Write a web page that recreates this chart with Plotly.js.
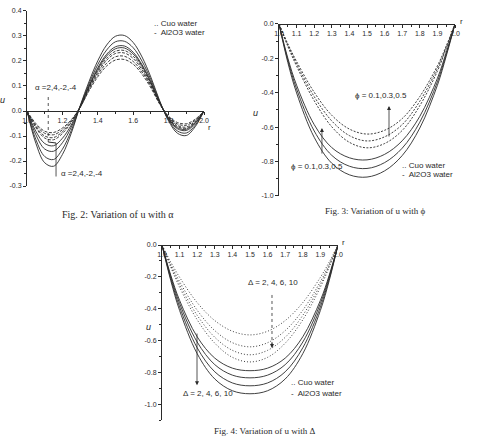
<!DOCTYPE html>
<html>
<head>
<meta charset="utf-8">
<script src="https://cdn.plot.ly/plotly-3.0.1.min.js"></script>
<style>
  html, body { margin: 0; padding: 0; background: #fff; }
  #chart { width: 478px; height: 441px; }
</style>
</head>
<body>
<div id="chart"></div>
<script>
// ---------- Fig. 2 : u(r) for alpha = 2, 4, -2, -4 ----------
const r2 = [1.0, 1.05, 1.1, 1.15, 1.2, 1.25, 1.3, 1.35, 1.4, 1.45, 1.5, 1.55, 1.6, 1.65, 1.7, 1.75, 1.8, 1.85, 1.9, 1.95, 2.0];
const alAlpha1 = [0, -0.129, -0.207, -0.221, -0.174, -0.089, 0.020, 0.117, 0.201, 0.264, 0.299, 0.302, 0.274, 0.216, 0.135, 0.040, -0.040, -0.089, -0.098, -0.063, 0];
const alAlpha2 = [0, -0.114, -0.182, -0.194, -0.153, -0.078, 0.018, 0.108, 0.186, 0.244, 0.277, 0.279, 0.253, 0.199, 0.125, 0.037, -0.036, -0.080, -0.088, -0.057, 0];
const alAlpha3 = [0, -0.095, -0.152, -0.161, -0.127, -0.065, 0.017, 0.100, 0.173, 0.227, 0.257, 0.260, 0.235, 0.185, 0.116, 0.034, -0.032, -0.071, -0.078, -0.050, 0];
const alAlpha4 = [0, -0.081, -0.130, -0.139, -0.109, -0.056, 0.017, 0.097, 0.167, 0.220, 0.249, 0.252, 0.228, 0.180, 0.112, 0.033, -0.030, -0.067, -0.073, -0.047, 0];
const cuAlpha1 = [0, -0.067, -0.108, -0.115, -0.090, -0.046, 0.016, 0.093, 0.161, 0.211, 0.239, 0.242, 0.219, 0.173, 0.108, 0.032, -0.028, -0.062, -0.069, -0.044, 0];
const cuAlpha2 = [0, -0.062, -0.100, -0.106, -0.083, -0.043, 0.015, 0.090, 0.154, 0.203, 0.230, 0.232, 0.210, 0.165, 0.103, 0.031, -0.026, -0.058, -0.064, -0.041, 0];
const cuAlpha3 = [0, -0.056, -0.089, -0.095, -0.075, -0.038, 0.014, 0.085, 0.146, 0.191, 0.217, 0.219, 0.198, 0.156, 0.098, 0.029, -0.023, -0.052, -0.057, -0.037, 0];
const cuAlpha4 = [0, -0.050, -0.081, -0.086, -0.068, -0.035, 0.014, 0.080, 0.137, 0.180, 0.204, 0.206, 0.187, 0.147, 0.092, 0.027, -0.021, -0.046, -0.051, -0.033, 0];

// ---------- Fig. 3 : u(r) for phi = 0.1, 0.3, 0.5 ----------
const r3 = [1.0, 1.05, 1.1, 1.2, 1.3, 1.4, 1.5, 1.6, 1.7, 1.8, 1.9, 1.95, 2.0];
const cuPhi1 = [0, -0.115, -0.218, -0.397, -0.531, -0.611, -0.640, -0.618, -0.550, -0.422, -0.243, -0.128, 0];
const cuPhi2 = [0, -0.122, -0.231, -0.422, -0.564, -0.649, -0.680, -0.656, -0.585, -0.449, -0.258, -0.136, 0];
const cuPhi3 = [0, -0.130, -0.245, -0.446, -0.598, -0.688, -0.720, -0.695, -0.619, -0.475, -0.274, -0.144, 0];
const alPhi1 = [0, -0.198, -0.356, -0.585, -0.719, -0.778, -0.790, -0.758, -0.679, -0.537, -0.316, -0.166, 0];
const alPhi2 = [0, -0.210, -0.378, -0.622, -0.764, -0.827, -0.840, -0.806, -0.722, -0.571, -0.336, -0.176, 0];
const alPhi3 = [0, -0.223, -0.401, -0.659, -0.810, -0.877, -0.890, -0.854, -0.765, -0.605, -0.356, -0.187, 0];

// ---------- Fig. 4 : u(r) for Delta = 2, 4, 6, 10 ----------
const r4 = [1.0, 1.05, 1.1, 1.2, 1.3, 1.4, 1.5, 1.6, 1.7, 1.8, 1.9, 1.95, 2.0];
const cuDelta1 = [0, -0.107, -0.203, -0.362, -0.475, -0.542, -0.565, -0.542, -0.475, -0.362, -0.203, -0.107, 0];
const cuDelta2 = [0, -0.122, -0.230, -0.410, -0.538, -0.614, -0.640, -0.614, -0.538, -0.410, -0.230, -0.122, 0];
const cuDelta3 = [0, -0.131, -0.248, -0.442, -0.580, -0.662, -0.690, -0.662, -0.580, -0.442, -0.248, -0.131, 0];
const cuDelta4 = [0, -0.140, -0.265, -0.470, -0.617, -0.706, -0.735, -0.706, -0.617, -0.470, -0.265, -0.140, 0];
const alDelta1 = [0, -0.190, -0.348, -0.577, -0.711, -0.774, -0.790, -0.774, -0.711, -0.577, -0.348, -0.190, 0];
const alDelta2 = [0, -0.200, -0.367, -0.610, -0.752, -0.818, -0.835, -0.818, -0.752, -0.610, -0.367, -0.200, 0];
const alDelta3 = [0, -0.212, -0.389, -0.646, -0.797, -0.867, -0.885, -0.867, -0.797, -0.646, -0.389, -0.212, 0];
const alDelta4 = [0, -0.224, -0.411, -0.683, -0.842, -0.916, -0.935, -0.916, -0.842, -0.683, -0.411, -0.224, 0];

// ---------- tick labels ----------
const xTicks2 = [1.0, 1.2, 1.4, 1.6, 1.8, 2.0];
const xLabels2 = ['1.0', '1.2', '1.4', '1.6', '1.8', '2.0'];
const yTicks2 = [-0.3, -0.2, -0.1, 0.0, 0.1, 0.2, 0.3, 0.4];
const yLabels2 = ['-0.3', '-0.2', '-0.1', '0.0', '0.1', '0.2', '0.3', '0.4'];
const xTicks34 = [1.0, 1.1, 1.2, 1.3, 1.4, 1.5, 1.6, 1.7, 1.8, 1.9, 2.0];
const xLabels34 = ['1.0', '1.1', '1.2', '1.3', '1.4', '1.5', '1.6', '1.7', '1.8', '1.9', '2.0'];
const yTicks34 = [0.0, -0.2, -0.4, -0.6, -0.8, -1.0];
const yLabels34 = ['0.0', '-0.2', '-0.4', '-0.6', '-0.8', '-1.0'];

const SANS = "'Liberation Sans Narrow', 'Arial Narrow', 'Liberation Sans', Arial, sans-serif";
const SERIF = "'Liberation Serif', 'Times New Roman', serif";
const INK = '#2a2a2a';

function curve(x, y, xa, ya, dash) {
  return {
    type: 'scatter', mode: 'lines', x: x, y: y, xaxis: xa, yaxis: ya,
    line: { color: INK, width: 0.9, shape: 'spline', smoothing: 1, dash: dash },
    hoverinfo: 'skip', showlegend: false
  };
}

const traces = [
  curve(r2, alAlpha1, 'x', 'y', 'solid'),
  curve(r2, alAlpha2, 'x', 'y', 'solid'),
  curve(r2, alAlpha3, 'x', 'y', 'solid'),
  curve(r2, alAlpha4, 'x', 'y', 'solid'),
  curve(r2, cuAlpha1, 'x', 'y', '3px,1.5px'),
  curve(r2, cuAlpha2, 'x', 'y', '3px,1.5px'),
  curve(r2, cuAlpha3, 'x', 'y', '3px,1.5px'),
  curve(r2, cuAlpha4, 'x', 'y', '3px,1.5px'),
  curve(r3, cuPhi1, 'x2', 'y2', '2px,1.5px'),
  curve(r3, cuPhi2, 'x2', 'y2', '2px,1.5px'),
  curve(r3, cuPhi3, 'x2', 'y2', '2px,1.5px'),
  curve(r3, alPhi1, 'x2', 'y2', 'solid'),
  curve(r3, alPhi2, 'x2', 'y2', 'solid'),
  curve(r3, alPhi3, 'x2', 'y2', 'solid'),
  curve(r4, cuDelta1, 'x3', 'y3', '1px,2px'),
  curve(r4, cuDelta2, 'x3', 'y3', '1px,2px'),
  curve(r4, cuDelta3, 'x3', 'y3', '1px,2px'),
  curve(r4, cuDelta4, 'x3', 'y3', '1px,2px'),
  curve(r4, alDelta1, 'x3', 'y3', 'solid'),
  curve(r4, alDelta2, 'x3', 'y3', 'solid'),
  curve(r4, alDelta3, 'x3', 'y3', 'solid'),
  curve(r4, alDelta4, 'x3', 'y3', 'solid')
];

function axis(extra) {
  return Object.assign({
    showgrid: false, zeroline: false, showline: true,
    linecolor: INK, linewidth: 1,
    ticks: 'outside', ticklen: 3, tickwidth: 1, tickcolor: INK,
    tickfont: { family: SANS, size: 7, color: INK },
    fixedrange: true, title: { text: '' }
  }, extra);
}

const layout = {
  width: 478, height: 441,
  margin: { l: 0, r: 0, t: 0, b: 0 },
  paper_bgcolor: '#fff', plot_bgcolor: 'rgba(0,0,0,0)',
  showlegend: false,
  // Fig. 2 axes
  xaxis: axis({ domain: [0.0565, 0.4268], range: [1, 2], anchor: 'free', position: 0.7483, side: 'bottom',
    tickmode: 'array', tickvals: xTicks2, ticktext: xLabels2,
    minor: { tickmode: 'linear', tick0: 1, dtick: 0.1, ticks: 'outside', ticklen: 2, tickcolor: INK } }),
  yaxis: axis({ domain: [0.5782, 0.9751], range: [-0.3, 0.4], anchor: 'x',
    tickmode: 'array', tickvals: yTicks2, ticktext: yLabels2,
    minor: { tickmode: 'linear', tick0: 0, dtick: 0.05, ticks: 'outside', ticklen: 2, tickcolor: INK } }),
  // Fig. 3 axes
  xaxis2: axis({ domain: [0.5837, 0.9519], range: [1, 2], anchor: 'free', position: 0.9456, side: 'bottom',
    tickmode: 'array', tickvals: xTicks34, ticktext: xLabels34,
    minor: { tickmode: 'linear', tick0: 1, dtick: 0.05, ticks: 'outside', ticklen: 2, tickcolor: INK } }),
  yaxis2: axis({ domain: [0.5556, 0.9456], range: [-1, 0], anchor: 'x2',
    tickmode: 'array', tickvals: yTicks34, ticktext: yLabels34,
    minor: { tickmode: 'linear', tick0: 0, dtick: 0.1, ticks: 'outside', ticklen: 2, tickcolor: INK } }),
  // Fig. 4 axes
  xaxis3: axis({ domain: [0.3389, 0.7071], range: [1, 2], anchor: 'free', position: 0.4444, side: 'bottom',
    tickmode: 'array', tickvals: xTicks34, ticktext: xLabels34,
    minor: { tickmode: 'linear', tick0: 1, dtick: 0.05, ticks: 'outside', ticklen: 2, tickcolor: INK } }),
  yaxis3: axis({ domain: [0.0476, 0.4444], range: [-1.1, 0], anchor: 'x3',
    tickmode: 'array', tickvals: yTicks34, ticktext: yLabels34,
    minor: { tickmode: 'linear', tick0: 0, dtick: 0.1, ticks: 'outside', ticklen: 2, tickcolor: INK } }),
  shapes: [
    // Fig. 2 markers for the alpha labels
    { type: 'line', xref: 'x', yref: 'y', x0: 1.12, x1: 1.12, y0: 0.056, y1: -0.124, line: { color: INK, width: 0.8, dash: 'dot' } },
    { type: 'line', xref: 'x', yref: 'y', x0: 1.12, x1: 1.164, y0: -0.124, y1: -0.128, line: { color: INK, width: 1 } },
    { type: 'line', xref: 'x', yref: 'y', x0: 1.164, x1: 1.164, y0: -0.128, y1: -0.262, line: { color: INK, width: 0.8 } },
    // Fig. 4 dotted arrow shaft
    { type: 'line', xref: 'x3', yref: 'y3', x0: 1.625, x1: 1.625, y0: -0.314, y1: -0.63, line: { color: INK, width: 0.8, dash: 'dot' } }
  ],
  annotations: []
};

const A = layout.annotations;
function txt(xref, yref, x, y, text, size, xanchor, font) {
  A.push({ xref: xref, yref: yref, x: x, y: y, text: text, showarrow: false,
    xanchor: xanchor || 'left', yanchor: 'middle',
    font: { family: font || SANS, size: size, color: INK } });
}
function arrow(xref, yref, x, yTail, yHead) {
  A.push({ xref: xref, yref: yref, axref: xref, ayref: yref, x: x, y: yHead, ax: x, ay: yTail,
    text: '', showarrow: true, arrowhead: 2, arrowsize: 1, arrowwidth: 0.8, arrowcolor: INK });
}

// Fig. 2 texts
txt('x', 'y', 1.034, 0.092, '\u03b1 =2,4,-2,-4', 8);
txt('x', 'y', 1.18, -0.248, '\u03b1 =2,4,-2,-4', 8);
txt('paper', 'paper', 152 / 478, 1 - 23 / 441, '.. Cuo water', 8);
txt('paper', 'paper', 152 / 478, 1 - 32 / 441, '-  Al2O3 water', 8);
txt('paper', 'paper', 209 / 478, 1 - 128 / 441, 'r', 8, 'center');
txt('paper', 'paper', 2 / 478, 1 - 100 / 441, '<i>u</i>', 9, 'center');
txt('paper', 'paper', 118 / 478, 1 - 215 / 441, 'Fig. 2: Variation of u with \u03b1', 10, 'center', SERIF);

// Fig. 3 texts
txt('x2', 'y2', 1.42, -0.413, '\u03d5 = 0.1,0.3,0.5', 8);
txt('x2', 'y2', 1.057, -0.831, '\u03d5 = 0.1,0.3,0.5', 8);
arrow('x2', 'y2', 1.625, -0.663, -0.477);
arrow('x2', 'y2', 1.244, -0.762, -0.605);
txt('paper', 'paper', 400 / 478, 1 - 165 / 441, '.. Cuo water', 8);
txt('paper', 'paper', 400 / 478, 1 - 175 / 441, '-  Al2O3 water', 8);
txt('paper', 'paper', 461 / 478, 1 - 21 / 441, 'r', 8, 'center');
txt('paper', 'paper', 255 / 478, 1 - 113 / 441, '<i>u</i>', 9, 'center');
txt('paper', 'paper', 375 / 478, 1 - 211 / 441, 'Fig. 3: Variation of u with \u03d5', 9, 'center', SERIF);

// Fig. 4 texts
txt('x3', 'y3', 1.477, -0.233, '\u0394 = 2, 4, 6, 10', 8);
txt('x3', 'y3', 1.108, -0.931, '\u0394 = 2, 4, 6, 10', 8);
arrow('x3', 'y3', 1.625, -0.60, -0.648);
arrow('x3', 'y3', 1.199, -0.547, -0.881);
txt('paper', 'paper', 289 / 478, 1 - 382 / 441, '.. Cuo water', 8);
txt('paper', 'paper', 289 / 478, 1 - 393 / 441, '-  Al2O3 water', 8);
txt('paper', 'paper', 343 / 478, 1 - 242 / 441, 'r', 8, 'center');
txt('paper', 'paper', 148 / 478, 1 - 327 / 441, '<i>u</i>', 9, 'center');
txt('paper', 'paper', 265 / 478, 1 - 431 / 441, 'Fig. 4: Variation of u with \u0394', 9, 'center', SERIF);

Plotly.newPlot('chart', traces, layout, { staticPlot: true, displayModeBar: false });
</script>
</body>
</html>
